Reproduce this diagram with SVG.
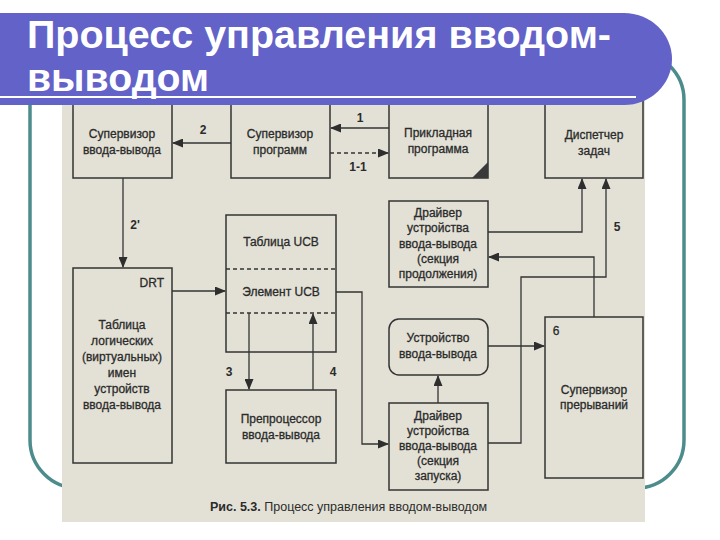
<svg xmlns="http://www.w3.org/2000/svg" width="720" height="540" viewBox="0 0 720 540">
<style>
.box{fill:none;stroke:#333333;stroke-width:1.5}
.ln{fill:none;stroke:#333333;stroke-width:1.3}
.dash{fill:none;stroke:#333333;stroke-width:1.3;stroke-dasharray:4,3}
.t{font-family:"Liberation Sans",Arial,sans-serif;font-size:12px;fill:#2b2b2b;stroke:#2b2b2b;stroke-width:0.3;text-anchor:middle;dominant-baseline:central}
.lbl{font-family:"Liberation Sans",Arial,sans-serif;font-size:12px;font-weight:bold;fill:#2b2b2b;text-anchor:middle;dominant-baseline:central}
.title{font-family:"Liberation Sans",Arial,sans-serif;font-size:38px;font-weight:bold;fill:#ffffff}
</style>
<defs>
<marker id="arr" markerUnits="userSpaceOnUse" markerWidth="11" markerHeight="9" refX="10" refY="4.5" orient="auto">
<path d="M0,0 L11,4.5 L0,9 Z" fill="#2e2e2e"/>
</marker>
<clipPath id="scan"><rect x="62" y="100" width="583" height="422"/></clipPath>
</defs>
<rect width="720" height="540" fill="#ffffff"/>
<rect id="frame" x="30" y="52" width="654" height="436" rx="48" fill="none" stroke="#4d8c8c" stroke-width="3.5"/>
<rect id="scanbg" x="62" y="100" width="583" height="422" fill="#e3e1d6"/>
<g clip-path="url(#scan)">
<g id="sup-io"><rect class="box" x="73" y="90" width="99" height="88"/><text class="t" x="122" y="134">Супервизор</text><text class="t" x="122" y="150">ввода-вывода</text></g>
<g id="sup-prog"><rect class="box" x="231" y="90" width="99" height="88"/><text class="t" x="280" y="134">Супервизор</text><text class="t" x="280" y="150">программ</text></g>
<g id="app"><rect class="box" x="389" y="90" width="99" height="88"/><path d="M488,162 L488,178 L472,178 Z" fill="#3a3a3a"/><text class="t" x="438" y="133">Прикладная</text><text class="t" x="438" y="149">программа</text></g>
<g id="disp"><rect class="box" x="545" y="90" width="98" height="88"/><text class="t" x="594" y="135">Диспетчер</text><text class="t" x="594" y="151">задач</text></g>
<g id="ucb"><rect class="box" x="226" y="215" width="110" height="137"/><line class="dash" x1="226" y1="269" x2="336" y2="269"/><line class="dash" x1="226" y1="313" x2="336" y2="313"/><text class="t" x="281" y="242">Таблица UCB</text><text class="t" x="281" y="292">Элемент UCB</text></g>
<g id="drt"><rect class="box" x="73" y="268" width="99" height="195"/><text class="t" x="164" y="283" style="text-anchor:end">DRT</text><text class="t" x="122" y="325">Таблица</text><text class="t" x="122" y="341">логических</text><text class="t" x="122" y="357">(виртуальных)</text><text class="t" x="122" y="373">имен</text><text class="t" x="122" y="389">устройств</text><text class="t" x="122" y="405">ввода-вывода</text></g>
<g id="drv-cont"><rect class="box" x="389" y="201" width="99" height="86"/><text class="t" x="438" y="213">Драйвер</text><text class="t" x="438" y="228">устройства</text><text class="t" x="438" y="244">ввода-вывода</text><text class="t" x="438" y="259">(секция</text><text class="t" x="438" y="274">продолжения)</text></g>
<g id="dev"><rect class="box" x="389" y="319" width="99" height="56" rx="10"/><text class="t" x="438" y="338">Устройство</text><text class="t" x="438" y="354">ввода-вывода</text></g>
<g id="prep"><rect class="box" x="226" y="390" width="110" height="73"/><text class="t" x="281" y="419">Препроцессор</text><text class="t" x="281" y="435">ввода-вывода</text></g>
<g id="drv-start"><rect class="box" x="389" y="403" width="99" height="87"/><text class="t" x="438" y="416">Драйвер</text><text class="t" x="438" y="431">устройства</text><text class="t" x="438" y="446">ввода-вывода</text><text class="t" x="438" y="461">(секция</text><text class="t" x="438" y="476">запуска)</text></g>
<g id="int-sup"><rect class="box" x="545" y="317" width="98" height="161"/><text class="t" x="556" y="331">6</text><text class="t" x="594" y="390">Супервизор</text><text class="t" x="594" y="405">прерываний</text></g>
<g id="connectors">
<line class="ln" x1="389" y1="128" x2="331" y2="128" marker-end="url(#arr)"/>
<line class="dash" x1="330" y1="153" x2="388" y2="153" marker-end="url(#arr)"/>
<line class="ln" x1="231" y1="143" x2="173" y2="143" marker-end="url(#arr)"/>
<line class="ln" x1="123" y1="178" x2="123" y2="267" marker-end="url(#arr)"/>
<line class="ln" x1="172" y1="291" x2="225" y2="291" marker-end="url(#arr)"/>
<polyline class="ln" points="336,292 362,292 362,444 388,444" marker-end="url(#arr)"/>
<line class="ln" x1="249" y1="313" x2="249" y2="389" marker-end="url(#arr)"/>
<line class="ln" x1="313" y1="390" x2="313" y2="314" marker-end="url(#arr)"/>
<line class="ln" x1="438" y1="403" x2="438" y2="376" marker-end="url(#arr)"/>
<line class="ln" x1="488" y1="346" x2="544" y2="346" marker-end="url(#arr)"/>
<polyline class="ln" points="488,443 521,443 521,277 606,277 606,179" marker-end="url(#arr)"/>
<polyline class="ln" points="594,317 594,257 489,257" marker-end="url(#arr)"/>
<polyline class="ln" points="488,232 582,232 582,179" marker-end="url(#arr)"/>
<text class="lbl" x="360" y="118">1</text>
<text class="lbl" x="358" y="167">1-1</text>
<text class="lbl" x="203" y="130">2</text>
<text class="lbl" x="135" y="225">2'</text>
<text class="lbl" x="229" y="372">3</text>
<text class="lbl" x="333" y="372">4</text>
<text class="lbl" x="617" y="227">5</text>
</g>
</g>
<text id="caption" x="210" y="511" font-family="'Liberation Sans',Arial,sans-serif" font-size="12.5" fill="#2b2b2b"><tspan font-weight="bold">Рис. 5.3.</tspan> Процесс управления вводом-выводом</text>
<g id="banner">
<path d="M0,13 H624 A48,46 0 0 1 624,105 H0 Z" fill="#6262c8"/>
<line x1="0" y1="97" x2="636" y2="97" stroke="#ffffff" stroke-width="2"/>
<text class="title" x="27" y="48" textLength="584" lengthAdjust="spacingAndGlyphs">Процесс управления вводом-</text>
<text class="title" x="27" y="91" textLength="182" lengthAdjust="spacingAndGlyphs">выводом</text>
</g>
</svg>
